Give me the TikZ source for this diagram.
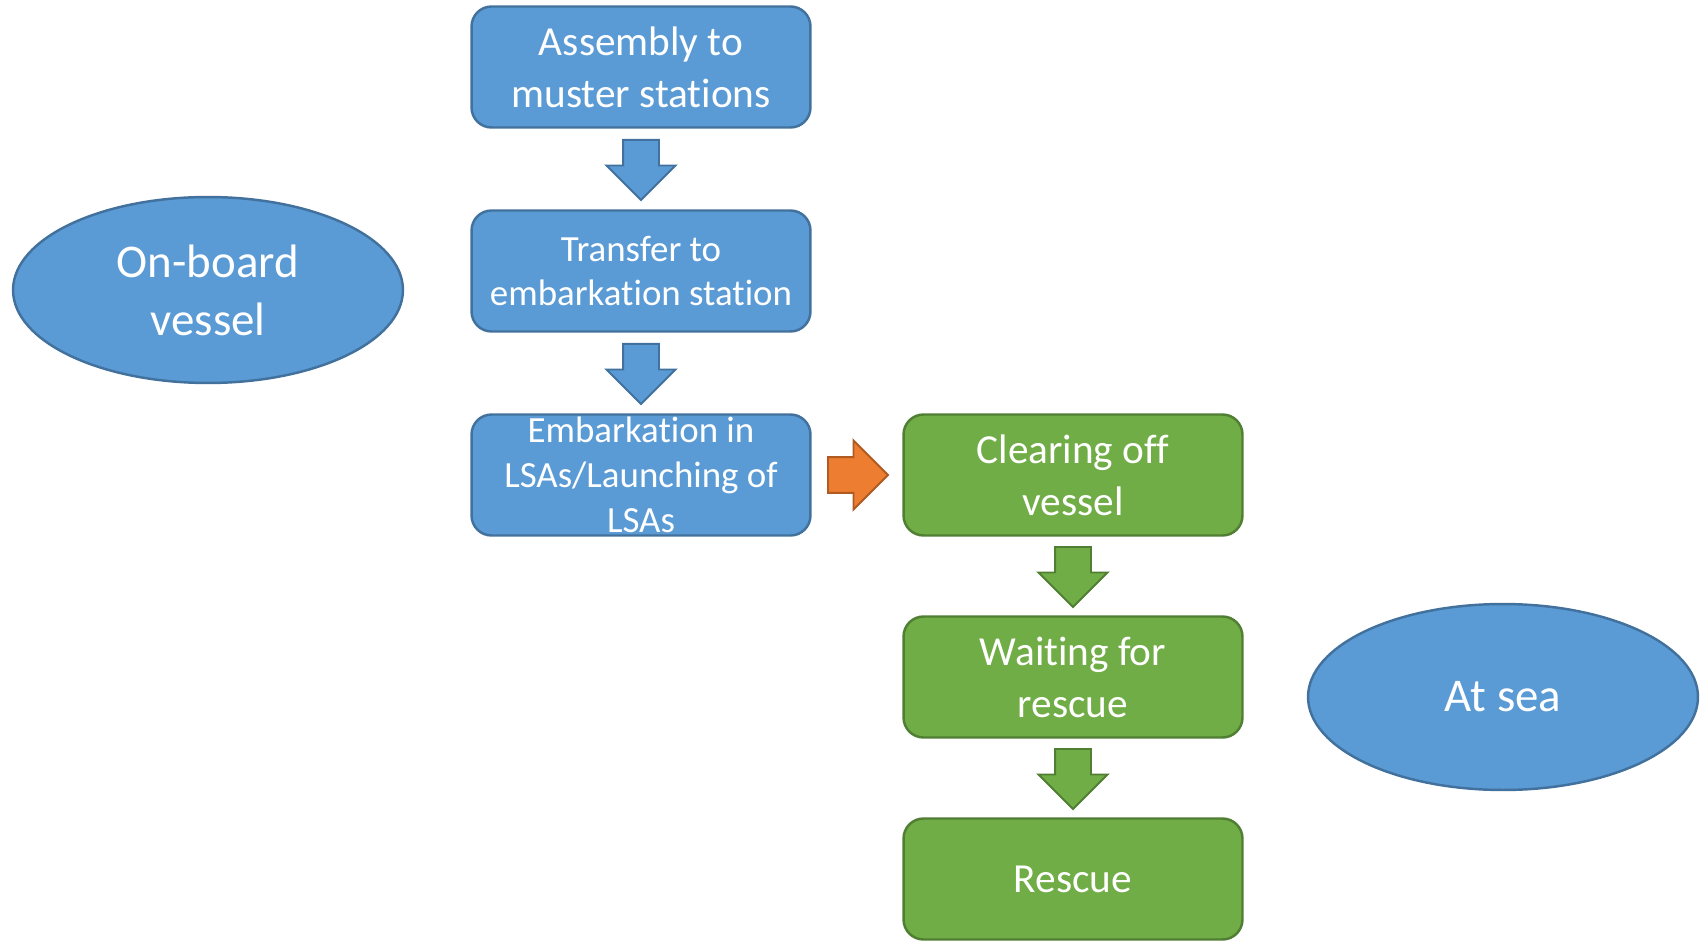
\documentclass[tikz,border=0pt]{standalone}
\usepackage{fontspec}
\setmainfont{Carlito}[RawFeature={-liga;-clig;-calt;-dlig}]
\usetikzlibrary{shapes.geometric,shapes.arrows,calc}
\definecolor{boxblue}{HTML}{5B9BD5}
\definecolor{edgeblue}{HTML}{41719C}
\definecolor{boxgreen}{HTML}{70AD47}
\definecolor{edgegreen}{HTML}{507E32}
\definecolor{boxorange}{HTML}{ED7D31}
\definecolor{edgeorange}{HTML}{AE5A21}
\tikzstyle{stepbox}=[rectangle,rounded corners=0.4cm,line width=1.4pt,minimum width=6.78cm,minimum height=2.42cm,inner sep=0,text=white,align=center,font=\fontsize{23.5}{29.6}\selectfont]
\tikzstyle{bluebox}=[stepbox,draw=edgeblue,fill=boxblue]
\tikzstyle{greenbox}=[stepbox,draw=edgegreen,fill=boxgreen]
\tikzstyle{place}=[ellipse,draw=edgeblue,fill=boxblue,line width=1.4pt,minimum width=7.8cm,minimum height=3.72cm,inner sep=0,text=white,align=center,font=\fontsize{26.7}{33}\selectfont]
\tikzset{
  small/.style={font=\fontsize{21}{25.6}\selectfont}
}
\tikzset{
  blockarrow/.style={
    single arrow,
    anchor=tail,
    minimum height=1.2cm,
    single arrow head extend=0.33cm,
    inner xsep=0,
    inner ysep=0.34cm,
    line width=1.1pt
  }
}

\begin{document}
\begin{tikzpicture}[x=0.02cm,y=-0.02cm]
\useasboundingbox (0,0) rectangle (1700,942);

\node[bluebox] (assembly) at (641,67) {Assembly to\\muster stations};
\node[bluebox,small] (transfer) at (641,271) {Transfer to\\embarkation station};
\node[bluebox] (embark) at (641,475) {};
\node[small,text=white,align=center] at (embark.center) {Embarkation in\\LSAs/Launching of\\LSAs};
\node[greenbox] (clear) at (1073,475) {Clearing off\\vessel};
\node[greenbox] (wait) at (1073,677) {Waiting for\\rescue};
\node[greenbox] (rescue) at (1073,879) {Rescue};

\node[place] (onboard) at (208,290) {On-board\\vessel};
\node[place] (atsea) at (1503,697) {At sea};

\node[blockarrow,rotate=-90,fill=boxblue,draw=edgeblue] at ($(assembly.south)!0.5!(transfer.north)+(0,-30)$) {};
\node[blockarrow,rotate=-90,fill=boxblue,draw=edgeblue] at ($(transfer.south)!0.5!(embark.north)+(0,-30)$) {};
\node[blockarrow,fill=boxorange,draw=edgeorange] at ($(embark.east)!0.5!(clear.west)+(-30,0)$) {};
\node[blockarrow,rotate=-90,fill=boxgreen,draw=edgegreen] at ($(clear.south)!0.5!(wait.north)+(0,-30)$) {};
\node[blockarrow,rotate=-90,fill=boxgreen,draw=edgegreen] at ($(wait.south)!0.5!(rescue.north)+(0,-30)$) {};

\end{tikzpicture}
\end{document}
